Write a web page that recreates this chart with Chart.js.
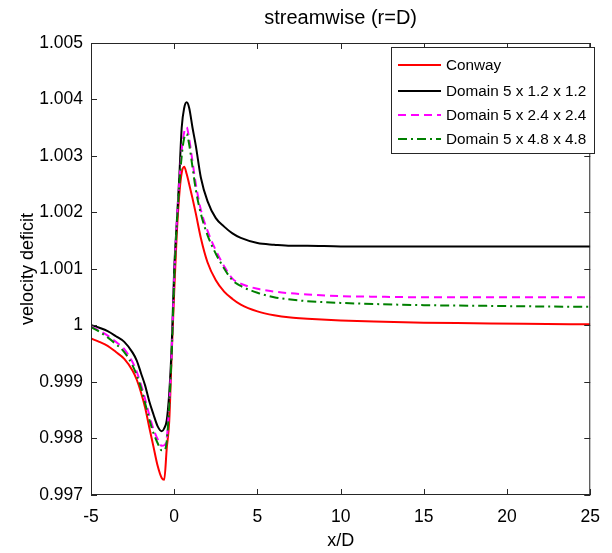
<!DOCTYPE html>
<html>
<head>
<meta charset="utf-8">
<script src="https://cdn.jsdelivr.net/npm/chart.js@4"></script>
<style>
  html, body { margin: 0; padding: 0; background: #fff; }
  canvas { display: block; }
</style>
</head>
<body>
<canvas id="grafico" width="612" height="553"></canvas>
<script>
// x/D positions sampled along the curves
const xD = [-5, -4.5, -4, -3.5, -3, -2.5, -2.25, -2, -1.75, -1.5, -1.25, -1, -0.75, -0.6, -0.45, -0.3, -0.15, 0,
            0.15, 0.3, 0.45, 0.6, 0.75, 0.9, 1.1, 1.3, 1.6, 2, 2.5, 3, 3.5, 4,
            5, 6, 7, 8, 10, 12, 15, 18, 21, 25];

// velocity deficit
const conway = [0.99977, 0.99971, 0.99964, 0.99953, 0.99941, 0.99920, 0.99904, 0.99882, 0.99855, 0.99820, 0.99786, 0.99752, 0.99730, 0.99727, 0.99782, 0.99830, 0.99950, 1.00060,
                1.00160, 1.00230, 1.00270, 1.00281, 1.00268, 1.00250, 1.00225, 1.00198, 1.00155, 1.00112, 1.00080, 1.00060, 1.00047, 1.00037,
                1.00025, 1.00018, 1.00014, 1.00012, 1.00009, 1.00007, 1.00005, 1.00004, 1.00003, 1.00002];
const dom12 = [1.00001, 0.99996, 0.99990, 0.99981, 0.99971, 0.99952, 0.99938, 0.99916, 0.99894, 0.99866, 0.99843, 0.99822, 0.99813, 0.99818, 0.99832, 0.99880, 0.99965, 1.00100,
               1.00180, 1.00260, 1.00350, 1.00385, 1.00395, 1.00385, 1.00350, 1.00318, 1.00262, 1.00220, 1.00190, 1.00175, 1.00163, 1.00155,
               1.00146, 1.00143, 1.00141, 1.00141, 1.00140, 1.00140, 1.00140, 1.00140, 1.00140, 1.00140];
const dom24 = [0.99998, 0.99991, 0.99982, 0.99971, 0.99958, 0.99935, 0.99918, 0.99896, 0.99870, 0.99842, 0.99817, 0.99799, 0.99787, 0.99788, 0.99800, 0.99860, 0.99955, 1.00085,
               1.00180, 1.00250, 1.00310, 1.00342, 1.00351, 1.00330, 1.00290, 1.00250, 1.00205, 1.00168, 1.00133, 1.00105, 1.00083, 1.00074,
               1.00065, 1.00060, 1.00057, 1.00055, 1.00052, 1.00051, 1.00050, 1.00050, 1.00050, 1.00050];
const dom48 = [0.99997, 0.99989, 0.99979, 0.99967, 0.99953, 0.99929, 0.99912, 0.99890, 0.99863, 0.99834, 0.99810, 0.99792, 0.99779, 0.99779, 0.99795, 0.99858, 0.99952, 1.00080,
               1.00175, 1.00245, 1.00300, 1.00332, 1.00339, 1.00320, 1.00280, 1.00240, 1.00198, 1.00160, 1.00127, 1.00101, 1.00080, 1.00070,
               1.00058, 1.00050, 1.00046, 1.00043, 1.00040, 1.00038, 1.00036, 1.00035, 1.00034, 1.00033];

const nomes = ['Conway', 'Domain 5 x 1.2 x 1.2', 'Domain 5 x 2.4 x 2.4', 'Domain 5 x 4.8 x 4.8'];
const xTicks = [-5, 0, 5, 10, 15, 20, 25];
const yTicks = [0.997, 0.998, 0.999, 1, 1.001, 1.002, 1.003, 1.004, 1.005];

const fonte = "'Liberation Sans', Arial, Helvetica, sans-serif";

function pontos(ys) {
    return xD.map((x, i) => ({ x: x, y: ys[i] }));
}

// caixa do eixo com marcas internas (estilo MATLAB) + legenda
const eixoPlugin = {
    id: 'eixoMatlab',
    afterDraw(chart) {
        const ctx = chart.ctx;
        const a = chart.chartArea;
        const sx = chart.scales.x, sy = chart.scales.y;
        ctx.save();
        ctx.strokeStyle = '#262626';
        ctx.lineWidth = 1;
        ctx.strokeRect(a.left + 0.5, a.top + 0.5, a.right - a.left - 1, a.bottom - a.top - 1);
        const tl = 6;
        ctx.beginPath();
        xTicks.forEach(v => {
            const px = Math.round(sx.getPixelForValue(v)) + 0.5;
            ctx.moveTo(px, a.bottom); ctx.lineTo(px, a.bottom - tl);
            ctx.moveTo(px, a.top); ctx.lineTo(px, a.top + tl);
        });
        yTicks.forEach(v => {
            const py = Math.round(sy.getPixelForValue(v)) + 0.5;
            ctx.moveTo(a.left, py); ctx.lineTo(a.left + tl, py);
            ctx.moveTo(a.right, py); ctx.lineTo(a.right - tl, py);
        });
        ctx.stroke();

        // legenda
        const lx = 391, ly = 47, lw = 203, lh = 106;
        ctx.fillStyle = '#fff';
        ctx.fillRect(lx, ly, lw, lh);
        ctx.strokeStyle = '#262626';
        ctx.strokeRect(lx + 0.5, ly + 0.5, lw, lh);
        ctx.font = '15.3px ' + fonte;
        ctx.textBaseline = 'middle';
        ctx.textAlign = 'left';
        const linhas = [65, 91, 115, 139];
        chart.data.datasets.forEach((ds, i) => {
            const y = linhas[i];
            ctx.strokeStyle = ds.borderColor;
            ctx.lineWidth = 2;
            ctx.setLineDash(ds.borderDash || []);
            ctx.beginPath();
            ctx.moveTo(398, y); ctx.lineTo(441, y);
            ctx.stroke();
            ctx.setLineDash([]);
            ctx.fillStyle = '#000';
            ctx.fillText(ds.label, 446, y + 1);
        });

        // título
        ctx.font = '20px ' + fonte;
        ctx.textAlign = 'center';
        ctx.fillStyle = '#000';
        ctx.fillText('streamwise (r=D)', (a.left + a.right) / 2, 18);
        ctx.restore();
    }
};

const ctx = document.getElementById('grafico').getContext('2d');
new Chart(ctx, {
    type: 'line',
    data: {
        datasets: [
            { label: nomes[0], data: pontos(conway), borderColor: '#ff0000', borderWidth: 2, order: 3 },
            { label: nomes[1], data: pontos(dom12), borderColor: '#000000', borderWidth: 2, order: 2 },
            { label: nomes[2], data: pontos(dom24), borderColor: '#ff00ff', borderWidth: 2, borderDash: [8, 5], order: 1 },
            { label: nomes[3], data: pontos(dom48), borderColor: '#008000', borderWidth: 2, borderDash: [9, 4, 2, 4], order: 0 }
        ]
    },
    options: {
        responsive: false,
        animation: false,
        events: [],
        layout: { padding: { top: 43, right: 13, left: 0, bottom: 0 } },
        elements: {
            point: { radius: 0 },
            line: { cubicInterpolationMode: 'monotone', fill: false }
        },
        plugins: {
            legend: { display: false },
            tooltip: { enabled: false },
            title: { display: false }
        },
        scales: {
            x: {
                type: 'linear',
                min: -5,
                max: 25,
                grid: { display: false, drawTicks: false },
                border: { display: false },
                afterBuildTicks: s => { s.ticks = xTicks.map(v => ({ value: v })); },
                afterFit: s => { s.height = 58; },
                ticks: {
                    padding: 12,
                    color: '#000',
                    font: { family: fonte, size: 17.5 },
                    maxRotation: 0
                },
                title: {
                    display: true,
                    text: 'x/D',
                    color: '#000',
                    font: { family: fonte, size: 18 },
                    padding: { top: 0, bottom: 1 }
                }
            },
            y: {
                min: 0.997,
                max: 1.005,
                grid: { display: false, drawTicks: false },
                border: { display: false },
                afterBuildTicks: s => { s.ticks = yTicks.map(v => ({ value: v })); },
                afterFit: s => { s.width = 91; },
                ticks: {
                    padding: 8,
                    color: '#000',
                    font: { family: fonte, size: 17.5 },
                    callback: v => String(Math.round(v * 1000) / 1000)
                },
                title: {
                    display: true,
                    text: 'velocity deficit',
                    color: '#000',
                    font: { family: fonte, size: 18 },
                    padding: { top: 17, bottom: 0 }
                }
            }
        }
    },
    plugins: [eixoPlugin]
});
</script>
</body>
</html>
